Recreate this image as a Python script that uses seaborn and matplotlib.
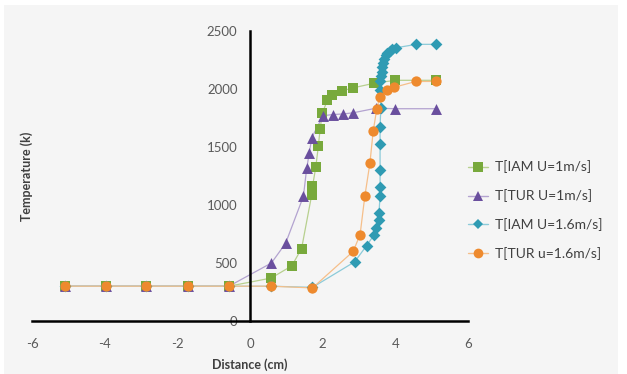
import matplotlib
matplotlib.use('Agg')
import matplotlib.pyplot as plt
import seaborn as sns
import pandas as pd
from matplotlib.lines import Line2D
from matplotlib.patches import Rectangle

# shared cold region (x in cm, T in K)
flat_x = [-5.08, -3.97, -2.85, -1.70, -0.58]
flat_y = [300, 300, 300, 300, 300]

iam1_x = flat_x + [0.58, 1.15, 1.42, 1.70, 1.72, 1.81, 1.88, 1.93, 1.99, 2.13, 2.27, 2.54, 2.84, 3.42, 4.00, 5.13]
iam1_y = flat_y + [370, 475, 625, 1090, 1160, 1325, 1505, 1655, 1790, 1905, 1950, 1985, 2010, 2050, 2075, 2075]

tur1_x = flat_x + [0.59, 0.98, 1.47, 1.56, 1.63, 1.70, 2.01, 2.29, 2.57, 2.84, 3.48, 3.99, 5.13]
tur1_y = flat_y + [500, 670, 1075, 1315, 1445, 1580, 1770, 1780, 1785, 1795, 1835, 1830, 1830]

iam16_x = flat_x + [0.59, 1.72, 2.88, 3.21, 3.42, 3.48, 3.54, 3.55, 3.58, 3.58, 3.58, 3.58, 3.58, 3.60,
                    3.58, 3.58, 3.60, 3.62, 3.64, 3.66, 3.70, 3.74, 3.78, 3.84, 3.90, 4.01, 4.58, 5.13]
iam16_y = flat_y + [300, 290, 510, 650, 745, 805, 870, 935, 1080, 1155, 1300, 1525, 1675, 1835,
                    1990, 2070, 2110, 2150, 2190, 2225, 2260, 2290, 2310, 2330, 2345, 2355, 2385, 2385]

tur16_x = flat_x + [0.59, 1.72, 2.84, 3.03, 3.16, 3.30, 3.39, 3.49, 3.57, 3.78, 3.97, 4.56, 5.13]
tur16_y = flat_y + [300, 285, 600, 745, 1075, 1360, 1635, 1830, 1930, 1990, 2015, 2065, 2065]

names = ['T[IAM U=1m/s]', 'T[TUR U=1m/s]', 'T[IAM U=1.6m/s]', 'T[TUR u=1.6m/s]']
xs = [iam1_x, tur1_x, iam16_x, tur16_x]
ys = [iam1_y, tur1_y, iam16_y, tur16_y]
marker_colors = ['#78a93c', '#6a4f9e', '#2f9bb3', '#ee8a2e']
line_colors = ['#b7d08e', '#b3a3d0', '#8ccbd9', '#f5bf8a']
markers = ['s', '^', 'D', 'o']
sizes = [55, 62, 36, 55]

rows = []
for name, x, y in zip(names, xs, ys):
    for i, (a, b) in enumerate(zip(x, y)):
        rows.append({'Series': name, 'x': a, 'T': b, 'order': i})
df = pd.DataFrame(rows)

sns.set_theme(style='white')
plt.rcParams['font.family'] = ['Lato', 'DejaVu Sans']
plt.rcParams['axes.unicode_minus'] = False

fig = plt.figure(figsize=(6.27, 3.74), dpi=100)
fig.patch.set_facecolor('white')
fig.patches.append(Rectangle((4 / 627, 0), 614 / 627, 369 / 374, transform=fig.transFigure,
                             facecolor='#f5f5f5', edgecolor='none', zorder=-10))

ax = fig.add_axes([32 / 627, 53 / 374, 436 / 627, 290 / 374])
ax.set_facecolor('none')

sns.lineplot(data=df, x='x', y='T', hue='Series', palette=dict(zip(names, line_colors)),
             estimator=None, sort=False, linewidth=0.9, legend=False, ax=ax, zorder=1)
for k, name in enumerate(names):
    sub = df[df['Series'] == name]
    sns.scatterplot(data=sub, x='x', y='T', color=marker_colors[k], marker=markers[k],
                    s=sizes[k], linewidth=0, legend=False, ax=ax, zorder=2 + k)

ax.set_xlim(-6, 6)
ax.set_ylim(0, 2500)
ax.set_xticks([-6, -4, -2, 0, 2, 4, 6])
ax.set_yticks([0, 500, 1000, 1500, 2000, 2500])
ax.spines['left'].set_position(('data', 0))
ax.spines['right'].set_visible(False)
ax.spines['top'].set_visible(False)
for s in ['left', 'bottom']:
    ax.spines[s].set_linewidth(1.8)
    ax.spines[s].set_color('black')
    ax.spines[s].set_zorder(1.5)
ax.tick_params(axis='both', length=0, labelsize=9.5, labelcolor='#5a5a5a')
ax.tick_params(axis='x', pad=12)
ax.tick_params(axis='y', pad=9)

ax.set_xlabel('Distance (cm)', fontsize=9, fontweight='bold', color='#404040')
ax.set_ylabel('Temperature (k)', fontsize=9, fontweight='bold', color='#404040')
ax.xaxis.set_label_coords(0.5, -0.128)
ax.yaxis.set_label_coords(0.002, 0.5)

handles = [Line2D([0], [0], color=lc, marker=m, markerfacecolor=mc, markeredgewidth=0,
                  markersize=7 if m != 'D' else 5.5, linewidth=1)
           for lc, mc, m in zip(line_colors, marker_colors, markers)]
fig.legend(handles, names, loc='upper left', bbox_to_anchor=(462 / 627, 1 - 155 / 374),
           frameon=False, fontsize=10, labelcolor='#404040', handlelength=1.5,
           handletextpad=0.45, labelspacing=1.15, borderaxespad=0)

fig.savefig('out.png', dpi=100, facecolor=fig.get_facecolor())
